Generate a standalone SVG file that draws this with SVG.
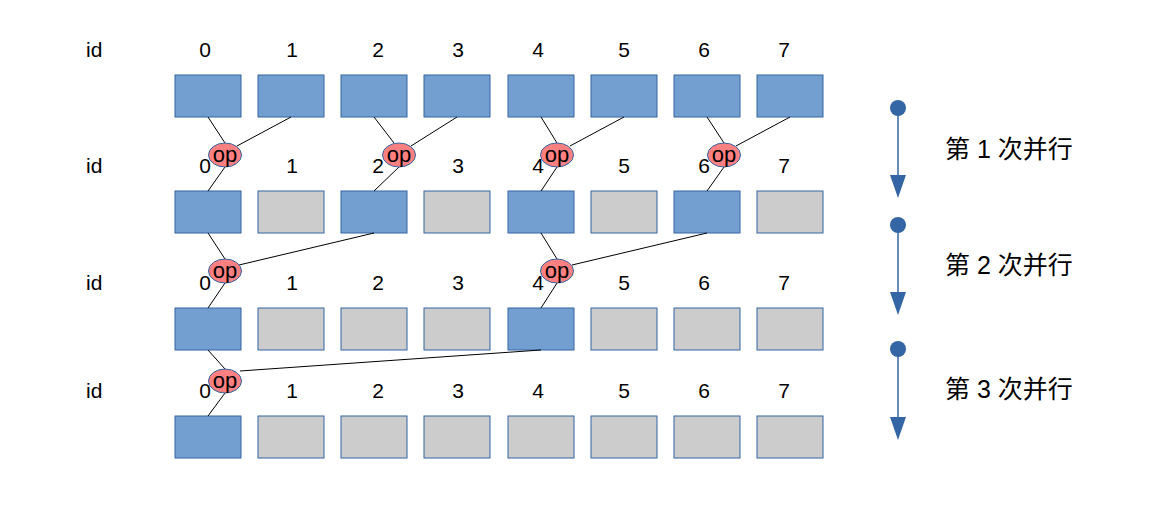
<svg xmlns="http://www.w3.org/2000/svg" width="1171" height="518" viewBox="0 0 1171 518">
<defs>
<style>
.lbl{font-family:"Liberation Sans",Arial,sans-serif;font-size:21px;fill:#000;text-anchor:middle}
.id{font-family:"Liberation Sans",Arial,sans-serif;font-size:21px;fill:#000}
.b{fill:#729fcf;stroke:#3465a4;stroke-width:1}
.g{fill:#cccccc;stroke:#3465a4;stroke-width:1}
.op{fill:#ff8080;stroke:#3465a4;stroke-width:1}
.opt{font-family:"Liberation Sans",Arial,sans-serif;font-size:22px;fill:#000;text-anchor:middle}
.ln{stroke:#000;stroke-width:1;fill:none}
.ar{stroke:#3465a4;stroke-width:1.5;fill:none}
.cj{font-family:"Liberation Sans","Noto Sans CJK SC",sans-serif;font-size:25px;fill:#000}
</style>
</defs>
<rect width="1171" height="518" fill="#fff"/>
<g id="labels">
<text class="id" x="86" y="57">id</text>
<text class="lbl" x="205" y="57">0</text><text class="lbl" x="292" y="57">1</text><text class="lbl" x="378" y="57">2</text><text class="lbl" x="458" y="57">3</text><text class="lbl" x="538" y="57">4</text><text class="lbl" x="624" y="57">5</text><text class="lbl" x="704" y="57">6</text><text class="lbl" x="784" y="57">7</text>
<text class="id" x="86" y="173">id</text>
<text class="lbl" x="205" y="173">0</text><text class="lbl" x="292" y="173">1</text><text class="lbl" x="378" y="173">2</text><text class="lbl" x="458" y="173">3</text><text class="lbl" x="538" y="173">4</text><text class="lbl" x="624" y="173">5</text><text class="lbl" x="704" y="173">6</text><text class="lbl" x="784" y="173">7</text>
<text class="id" x="86" y="290">id</text>
<text class="lbl" x="205" y="290">0</text><text class="lbl" x="292" y="290">1</text><text class="lbl" x="378" y="290">2</text><text class="lbl" x="458" y="290">3</text><text class="lbl" x="538" y="290">4</text><text class="lbl" x="624" y="290">5</text><text class="lbl" x="704" y="290">6</text><text class="lbl" x="784" y="290">7</text>
<text class="id" x="86" y="398">id</text>
<text class="lbl" x="205" y="398">0</text><text class="lbl" x="292" y="398">1</text><text class="lbl" x="378" y="398">2</text><text class="lbl" x="458" y="398">3</text><text class="lbl" x="538" y="398">4</text><text class="lbl" x="624" y="398">5</text><text class="lbl" x="704" y="398">6</text><text class="lbl" x="784" y="398">7</text>
</g>
<g id="row1">
<rect class="b" x="175" y="75" width="66" height="42"/><rect class="b" x="258" y="75" width="66" height="42"/><rect class="b" x="341" y="75" width="66" height="42"/><rect class="b" x="424" y="75" width="66" height="42"/><rect class="b" x="508" y="75" width="66" height="42"/><rect class="b" x="591" y="75" width="66" height="42"/><rect class="b" x="674" y="75" width="66" height="42"/><rect class="b" x="757" y="75" width="66" height="42"/>
</g>
<g id="row2">
<rect class="b" x="175" y="191" width="66" height="42"/><rect class="g" x="258" y="191" width="66" height="42"/><rect class="b" x="341" y="191" width="66" height="42"/><rect class="g" x="424" y="191" width="66" height="42"/><rect class="b" x="508" y="191" width="66" height="42"/><rect class="g" x="591" y="191" width="66" height="42"/><rect class="b" x="674" y="191" width="66" height="42"/><rect class="g" x="757" y="191" width="66" height="42"/>
</g>
<g id="row3">
<rect class="b" x="175" y="308" width="66" height="42"/><rect class="g" x="258" y="308" width="66" height="42"/><rect class="g" x="341" y="308" width="66" height="42"/><rect class="g" x="424" y="308" width="66" height="42"/><rect class="b" x="508" y="308" width="66" height="42"/><rect class="g" x="591" y="308" width="66" height="42"/><rect class="g" x="674" y="308" width="66" height="42"/><rect class="g" x="757" y="308" width="66" height="42"/>
</g>
<g id="row4">
<rect class="b" x="175" y="416" width="66" height="42"/><rect class="g" x="258" y="416" width="66" height="42"/><rect class="g" x="341" y="416" width="66" height="42"/><rect class="g" x="424" y="416" width="66" height="42"/><rect class="g" x="508" y="416" width="66" height="42"/><rect class="g" x="591" y="416" width="66" height="42"/><rect class="g" x="674" y="416" width="66" height="42"/><rect class="g" x="757" y="416" width="66" height="42"/>
</g>
<g id="connectors">
<line class="ln" x1="208" y1="117" x2="225" y2="143"/><line class="ln" x1="291" y1="117" x2="237" y2="146"/><line class="ln" x1="225" y1="167" x2="208" y2="191"/>
<line class="ln" x1="374" y1="117" x2="394" y2="143"/><line class="ln" x1="457" y1="117" x2="411" y2="146"/><line class="ln" x1="399" y1="167" x2="374" y2="191"/>
<line class="ln" x1="541" y1="117" x2="557" y2="143"/><line class="ln" x1="624" y1="117" x2="570" y2="146"/><line class="ln" x1="557" y1="167" x2="541" y2="191"/>
<line class="ln" x1="707" y1="117" x2="724" y2="143"/><line class="ln" x1="790" y1="117" x2="736" y2="146"/><line class="ln" x1="724" y1="167" x2="707" y2="191"/>
<line class="ln" x1="208" y1="233" x2="225" y2="259"/><line class="ln" x1="374" y1="233" x2="239" y2="265"/><line class="ln" x1="225" y1="283" x2="208" y2="308"/>
<line class="ln" x1="541" y1="233" x2="557" y2="259"/><line class="ln" x1="707" y1="233" x2="572" y2="265"/><line class="ln" x1="557" y1="283" x2="541" y2="308"/>
<line class="ln" x1="208" y1="350" x2="225" y2="369"/><line class="ln" x1="541" y1="350" x2="240" y2="371"/><line class="ln" x1="225" y1="393" x2="208" y2="416"/>
</g>
<g id="ops">
<ellipse class="op" cx="225" cy="155" rx="16.5" ry="12"/><text class="opt" x="225" y="162">op</text>
<ellipse class="op" cx="399" cy="155" rx="16.5" ry="12"/><text class="opt" x="399" y="162">op</text>
<ellipse class="op" cx="557" cy="155" rx="16.5" ry="12"/><text class="opt" x="557" y="162">op</text>
<ellipse class="op" cx="724" cy="155" rx="16.5" ry="12"/><text class="opt" x="724" y="162">op</text>
<ellipse class="op" cx="225" cy="271" rx="16.5" ry="12"/><text class="opt" x="225" y="278">op</text>
<ellipse class="op" cx="557" cy="271" rx="16.5" ry="12"/><text class="opt" x="557" y="278">op</text>
<ellipse class="op" cx="225" cy="381" rx="16.5" ry="12"/><text class="opt" x="225" y="388">op</text>
</g>
<g id="steps">
<circle cx="898" cy="108" r="8" fill="#3465a4"/><line class="ar" x1="898" y1="108" x2="898" y2="176"/><polygon points="890,175 906,175 898,198" fill="#3465a4"/>
<circle cx="898" cy="225" r="8" fill="#3465a4"/><line class="ar" x1="898" y1="225" x2="898" y2="293"/><polygon points="890,292 906,292 898,315" fill="#3465a4"/>
<circle cx="898" cy="349" r="8" fill="#3465a4"/><line class="ar" x1="898" y1="349" x2="898" y2="418"/><polygon points="890,417 906,417 898,440" fill="#3465a4"/>
<text class="cj" x="945" y="158">第 1 次并行</text>
<text class="cj" x="945" y="274">第 2 次并行</text>
<text class="cj" x="945" y="398">第 3 次并行</text>
</g>
</svg>
